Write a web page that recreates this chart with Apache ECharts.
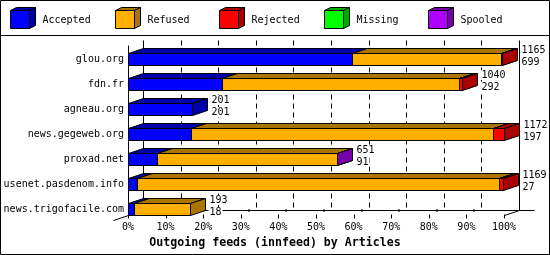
<!DOCTYPE html>
<html><head><meta charset="utf-8">
<script src="https://cdn.jsdelivr.net/npm/echarts@6/dist/echarts.min.js"></script>
<style>html,body{margin:0;padding:0;background:#fff}#c{width:550px;height:255px}</style>
</head><body><div id="c"></div>
<script>
// ---- data ----
const categories = ['glou.org','fdn.fr','agneau.org','news.gegeweb.org','proxad.net','usenet.pasdenom.info','news.trigofacile.com'];
const seriesNames = ['Accepted','Refused','Rejected','Missing','Spooled'];
const accepted = [699, 292, 201, 197, 91, 27, 18];
const refused  = [464, 741, 0, 942, 559, 1130, 174];
const rejected = [2, 7, 0, 33, 0, 12, 0];
const missing  = [0, 0, 0, 0, 0, 0, 0];
const spooled  = [0, 0, 0, 0, 2, 0, 0];
const totals   = [1165, 1040, 201, 1172, 651, 1169, 193];
const tickValues = [0,10,20,30,40,50,60,70,80,90,100];
const titleText = 'Outgoing feeds (innfeed) by Articles';

// ---- style ----
const colors = ['#0000ff','#ffaf00','#ff0000','#00ff00','#af00ff'];
const darks  = ['#0000aa','#aa7500','#aa0000','#00aa00','#7500aa'];
const FONT = '"DejaVu Sans Mono", monospace';
const DX = 15, DY = -5, HALF = 6;
const maxTotal = Math.max(...totals);
const pct = v => v / maxTotal * 100;
const cr = v => Math.round(v) + 0.5;

const barData = categories.map((c, i) => [i, accepted[i], refused[i], rejected[i], missing[i], spooled[i], totals[i]]);

function renderBar(params, api) {
  const ci = api.value(0);
  const yc = api.coord([0, ci])[1];
  const yT = cr(yc - HALF), yB = yT + 2 * HALF;
  const ch = [];
  let cum = 0, xEnd = cr(api.coord([0, ci])[0]);
  for (let s = 0; s < 5; s++) {
    const v = api.value(s + 1);
    if (!v) continue;
    const x0 = cr(api.coord([pct(cum), ci])[0]);
    cum += v;
    const x1 = cr(api.coord([pct(cum), ci])[0]);
    ch.push({type:'rect', shape:{x:x0, y:yT, width:x1 - x0, height:yB - yT}, style:{fill:colors[s], stroke:'#000', lineWidth:1}});
    ch.push({type:'polygon', shape:{points:[[x0,yT],[x0+DX,yT+DY],[x1+DX,yT+DY],[x1,yT]]}, style:{fill:darks[s], stroke:'#000', lineWidth:1}});
    ch.push({type:'polygon', shape:{points:[[x1,yT],[x1+DX,yT+DY],[x1+DX,yB+DY],[x1,yB]]}, style:{fill:darks[s], stroke:'#000', lineWidth:1}});
    xEnd = x1;
  }
  const lx = xEnd + DX + 3;
  const ts = t => ({text:String(t), fill:'#000', font:'10px ' + FONT, align:'left', verticalAlign:'middle', backgroundColor:'#fff', padding:[0,1,0,1]});
  ch.push({type:'text', x:lx, y:Math.round(yc - 9), style:ts(api.value(6))});
  ch.push({type:'text', x:lx, y:Math.round(yc + 2.5), style:ts(api.value(1))});
  return {type:'group', children:ch};
}

function renderFrame(params, api) {
  const n = categories.length;
  const yFirst = api.coord([0, 0])[1];
  const yLast = api.coord([0, n - 1])[1];
  const yTopF = Math.round(yFirst - 14) + 0.5;
  const yFloorF = Math.round(yLast + HALF) + 0.5;
  const yTopB = yTopF + DY, yFloorB = yFloorF + DY;
  const X = v => cr(api.coord([v, 0])[0]);
  const X0 = X(0), X100 = X(100);
  const ln = (x1, y1, x2, y2, dash) => ({type:'line', shape:{x1, y1, x2, y2}, style:{stroke:'#000', lineWidth:1, lineDash: dash || null}});
  const ch = [];
  tickValues.forEach(t => {
    if (t > 0 && t < 100) ch.push(ln(X(t) + DX, yTopB, X(t) + DX, yFloorB, [5, 4]));
  });
  ch.push(ln(X0 + DX, yTopB, X0 + DX, yFloorB));
  ch.push(ln(X100 + DX, yTopB, X100 + DX, yFloorB));
  ch.push(ln(X0 + DX, yFloorB, X100 + 2 * DX, yFloorB));
  ch.push(ln(X0, yTopF, X0, yFloorF));
  ch.push(ln(X0 - DX, yFloorF - DY, X0, yFloorF));
  ch.push(ln(X100, yFloorF, X100 + DX, yFloorB));
  tickValues.forEach(t => {
    const x = X(t);
    ch.push(ln(x, yFloorF - 1, x, yFloorF + 3));
    if (t > 0 && t < 100) ch.push({type:'rect', shape:{x:x + 6.5, y:yFloorB - 1, width:2, height:2}, style:{fill:'#000'}});
  });
  return {type:'group', children:ch};
}

// legend graphics
const legendGraphics = [];
seriesNames.forEach((name, i) => {
  const bx = Math.round(10 + i * 104.6) + 0.5, by = 10.5, w = 19, h = 18, dx = 6, dy = -3;
  legendGraphics.push({type:'rect', shape:{x:bx, y:by, width:w, height:h}, style:{fill:colors[i], stroke:'#000', lineWidth:1}});
  legendGraphics.push({type:'polygon', shape:{points:[[bx,by],[bx+dx,by+dy],[bx+w+dx,by+dy],[bx+w,by]]}, style:{fill:darks[i], stroke:'#000', lineWidth:1}});
  legendGraphics.push({type:'polygon', shape:{points:[[bx+w,by],[bx+w+dx,by+dy],[bx+w+dx,by+h+dy],[bx+w,by+h]]}, style:{fill:darks[i], stroke:'#000', lineWidth:1}});
  legendGraphics.push({type:'text', x:bx + 32, y:20, style:{text:name, fill:'#000', font:'10px ' + FONT, verticalAlign:'middle'}});
});

const chart = echarts.init(document.getElementById('c'), null, {renderer:'canvas'});
chart.setOption({
  animation:false,
  backgroundColor:'#fff',
  title:{text:titleText, left:'center', top:237, padding:0, textStyle:{fontFamily:FONT, fontWeight:'bold', fontSize:11.6, color:'#000'}},
  grid:{left:128, top:46.5, width:376, height:175, outerBoundsMode:'none', containLabel:false},
  xAxis:{type:'value', min:0, max:100, interval:10, axisLine:{show:false}, axisTick:{show:false}, splitLine:{show:false},
    axisLabel:{formatter:'{value}%', fontFamily:FONT, fontSize:10, color:'#000', margin:1}},
  yAxis:{type:'category', data:categories, inverse:true, axisLine:{show:false}, axisTick:{show:false}, splitLine:{show:false},
    axisLabel:{fontFamily:FONT, fontSize:10, color:'#000', margin:4}},
  graphic:[
    {type:'rect', shape:{x:0.5, y:0.5, width:549, height:254}, style:{fill:null, stroke:'#000', lineWidth:1}, z:100},
    {type:'line', shape:{x1:0, y1:35.5, x2:550, y2:35.5}, style:{stroke:'#000', lineWidth:1}},
    ...legendGraphics
  ],
  series:[
    {type:'custom', name:'frame', renderItem:renderFrame, data:[[0, 0]], clip:false, silent:true, z:1},
    {type:'custom', name:'bars', renderItem:renderBar, data:barData, encode:{x:[1], y:0}, clip:false, silent:true, z:2}
  ]
});
</script>
</body></html>
